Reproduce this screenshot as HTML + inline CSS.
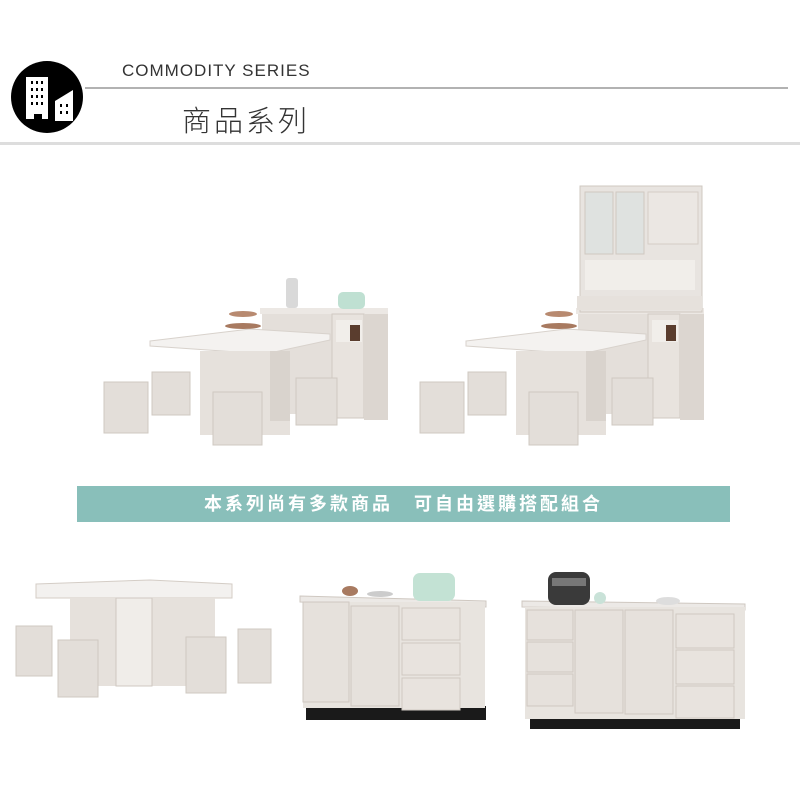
<!DOCTYPE html>
<html><head><meta charset="utf-8"><style>
html,body{margin:0;padding:0;background:#fff;}
body{width:800px;height:800px;position:relative;overflow:hidden;font-family:"Liberation Sans","Noto Sans CJK TC",sans-serif;}
.t1{position:absolute;left:122px;top:61px;font-size:17px;letter-spacing:1px;color:#333;}
.t2{position:absolute;left:182px;top:98px;font-size:29px;letter-spacing:3px;color:#333;font-weight:300;}
.ban{position:absolute;left:77px;top:486px;width:653px;height:36px;background:#89bfba;color:#fff;font-size:18px;font-weight:bold;letter-spacing:3px;line-height:36px;text-align:center;}
svg{position:absolute;left:0;top:0;}
</style></head><body>
<svg width="800" height="800" viewBox="0 0 800 800">
<line x1="85" y1="88" x2="788" y2="88" stroke="#999" stroke-width="1.5"/>
<rect x="0" y="142" width="800" height="3" fill="#ddd"/>
<circle cx="47" cy="97" r="36" fill="#000"/>
<rect x="26" y="77" width="22" height="42" fill="#fff"/>
<polygon points="55,101 73,90 73,121 55,121" fill="#fff"/>
<g fill="#000">
<rect x="31" y="81" width="2" height="3"/><rect x="36" y="81" width="2" height="3"/><rect x="41" y="81" width="2" height="3"/>
<rect x="31" y="88" width="2" height="3"/><rect x="36" y="88" width="2" height="3"/><rect x="41" y="88" width="2" height="3"/>
<rect x="31" y="95" width="2" height="3"/><rect x="36" y="95" width="2" height="3"/><rect x="41" y="95" width="2" height="3"/>
<rect x="31" y="102" width="2" height="3"/><rect x="36" y="102" width="2" height="3"/><rect x="41" y="102" width="2" height="3"/>
<rect x="60" y="104" width="2" height="3"/><rect x="66" y="104" width="2" height="3"/>
<rect x="60" y="111" width="2" height="3"/><rect x="66" y="111" width="2" height="3"/>
<rect x="34" y="114" width="8" height="6"/>
</g>
<defs>
<g id="scene">
<rect x="260" y="308" width="128" height="6" fill="#ece8e4"/>
<rect x="262" y="314" width="70" height="100" fill="#e4dfda"/>
<rect x="332" y="314" width="32" height="104" fill="#e8e3de" stroke="#d0c9c2" stroke-width="1"/>
<rect x="364" y="314" width="24" height="106" fill="#dcd6d0"/>
<rect x="336" y="320" width="26" height="22" fill="#f1eeea"/>
<rect x="350" y="325" width="10" height="16" fill="#5a3d2e"/>
<polygon points="150,341 250,329 330,334 330,340 265,354 150,346" fill="#f4f2f0" stroke="#d8d2cc"/>
<rect x="200" y="351" width="90" height="84" fill="#e6e1dc"/>
<rect x="270" y="351" width="20" height="70" fill="#d9d3cd"/>
<rect x="104" y="382" width="44" height="51" fill="#e3ded9" stroke="#cfc8c1"/>
<rect x="152" y="372" width="38" height="43" fill="#e3ded9" stroke="#cfc8c1"/>
<rect x="213" y="392" width="49" height="53" fill="#e3ded9" stroke="#cfc8c1"/>
<rect x="296" y="378" width="41" height="47" fill="#e3ded9" stroke="#cfc8c1"/>
<rect x="338" y="292" width="27" height="17" rx="5" fill="#bfe0d2"/>
<rect x="286" y="278" width="12" height="30" rx="3" fill="#d9d9d9"/>
<ellipse cx="243" cy="314" rx="14" ry="3" fill="#b88a70"/>
<ellipse cx="243" cy="326" rx="18" ry="3" fill="#a87a60"/>
</g>
</defs>
<use href="#scene"/>
<g transform="translate(316,0)"><use href="#scene"/></g>
<rect x="580" y="186" width="122" height="126" fill="#e8e4e0" stroke="#cfc8c1"/>
<rect x="585" y="192" width="28" height="62" fill="#dfe2e0" stroke="#cfc8c1"/>
<rect x="616" y="192" width="28" height="62" fill="#dfe2e0" stroke="#cfc8c1"/>
<rect x="648" y="192" width="50" height="52" fill="#ebe7e3" stroke="#d4cdc6"/>
<rect x="585" y="260" width="110" height="30" fill="#f1eeea"/>
<rect x="577" y="296" width="125" height="14" fill="#e6e1dc"/>
<!-- bottom left -->
<polygon points="36,584 150,580 232,584 232,598 36,598" fill="#f3f1ef" stroke="#d4cdc6"/>
<rect x="70" y="598" width="145" height="88" fill="#e6e1dc"/>
<rect x="116" y="598" width="36" height="88" fill="#f0ede9" stroke="#cfc8c1"/>
<rect x="16" y="626" width="36" height="50" fill="#e3ded9" stroke="#cfc8c1"/>
<rect x="58" y="640" width="40" height="57" fill="#e3ded9" stroke="#cfc8c1"/>
<rect x="186" y="637" width="40" height="56" fill="#e3ded9" stroke="#cfc8c1"/>
<rect x="238" y="629" width="33" height="54" fill="#e3ded9" stroke="#cfc8c1"/>
<!-- sideboard 1 -->
<rect x="306" y="706" width="180" height="14" fill="#1a1a1a"/>
<polygon points="300,596 486,601 486,607 300,602" fill="#ece9e6" stroke="#cfc8c1"/>
<rect x="303" y="602" width="182" height="106" fill="#e8e4df"/>
<rect x="303" y="602" width="46" height="100" fill="#e6e1dc" stroke="#cfc8c1"/>
<rect x="351" y="606" width="48" height="100" fill="#e6e1dc" stroke="#cfc8c1"/>
<rect x="402" y="608" width="58" height="32" fill="#e8e3de" stroke="#cfc8c1"/>
<rect x="402" y="643" width="58" height="32" fill="#e8e3de" stroke="#cfc8c1"/>
<rect x="402" y="678" width="58" height="32" fill="#e8e3de" stroke="#cfc8c1"/>
<rect x="413" y="573" width="42" height="28" rx="7" fill="#c3e2d4"/>
<ellipse cx="350" cy="591" rx="8" ry="5" fill="#a87a60"/>
<ellipse cx="380" cy="594" rx="13" ry="3" fill="#ccc"/>
<!-- sideboard 2 -->
<rect x="530" y="716" width="210" height="13" fill="#1a1a1a"/>
<polygon points="522,601 745,604 745,610 522,607" fill="#ece9e6" stroke="#cfc8c1"/>
<rect x="525" y="607" width="220" height="112" fill="#e8e4df"/>
<rect x="527" y="610" width="46" height="30" fill="#e6e1dc" stroke="#cfc8c1"/>
<rect x="527" y="642" width="46" height="30" fill="#e6e1dc" stroke="#cfc8c1"/>
<rect x="527" y="674" width="46" height="32" fill="#e6e1dc" stroke="#cfc8c1"/>
<rect x="575" y="610" width="48" height="103" fill="#e6e1dc" stroke="#cfc8c1"/>
<rect x="625" y="610" width="48" height="104" fill="#e6e1dc" stroke="#cfc8c1"/>
<rect x="676" y="614" width="58" height="34" fill="#e8e3de" stroke="#cfc8c1"/>
<rect x="676" y="650" width="58" height="34" fill="#e8e3de" stroke="#cfc8c1"/>
<rect x="676" y="686" width="58" height="32" fill="#e8e3de" stroke="#cfc8c1"/>
<rect x="548" y="572" width="42" height="33" rx="8" fill="#3a3a3a"/>
<rect x="552" y="578" width="34" height="8" fill="#777"/>
<circle cx="600" cy="598" r="6" fill="#c9e2d8"/>
<ellipse cx="668" cy="601" rx="12" ry="4" fill="#ddd"/>
</svg>
<div class="t1">COMMODITY SERIES</div>
<div class="t2">商品系列</div>
<div class="ban">本系列尚有多款商品　可自由選購搭配組合</div>
</body></html>
